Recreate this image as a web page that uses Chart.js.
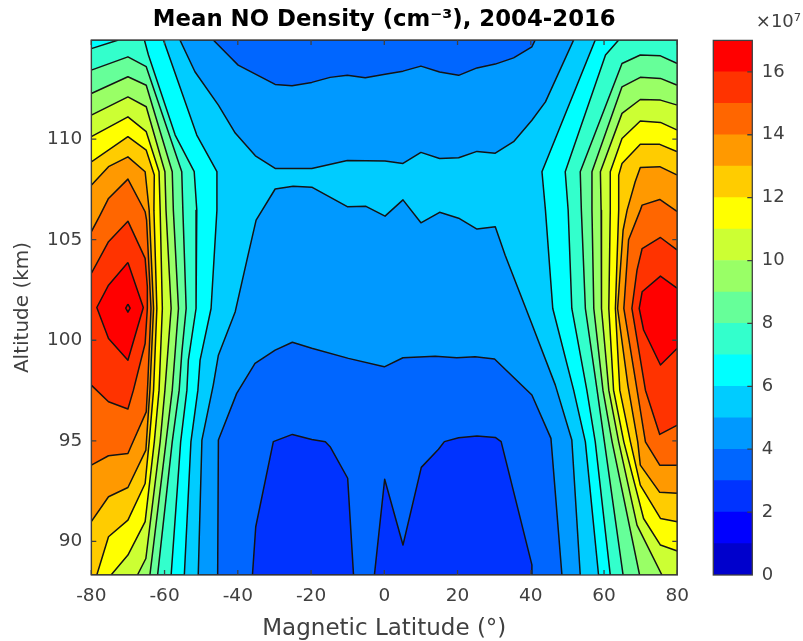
<!DOCTYPE html>
<html><head><meta charset="utf-8">
<script src="https://cdn.jsdelivr.net/npm/chart.js@4"></script>
<style>html,body{margin:0;padding:0;background:#fff}canvas{position:absolute;left:0;top:0;filter:blur(0.45px)}</style>
</head><body>
<canvas id="main" width="803" height="641"></canvas>
<canvas id="bar" width="803" height="641"></canvas>
<script>
const latTicks=[-80,-60,-40,-20,0,20,40,60,80];
const altTicks=[90,95,100,105,110];
const barTicks=[0,2,4,6,8,10,12,14,16];
const levels=[0,1,2,3,4,5,6,7,8,9,10,11,12,13,14,15,16,17];
const bandColors=['#0000cc','#0000ff','#0033ff','#0066ff','#0099ff','#00ccff','#00ffff','#33ffcc','#66ff99','#99ff66','#ccff33','#ffff00','#ffcc00','#ff9900','#ff6600','#ff3300','#ff0000'];
const latMin=-80, latMax=80, altMin=88.33, altMax=114.93;

// contour lines, [latitude, altitude]; L/R = high-latitude sides
const z6L=[[-60.3,114.93],[-51.2,110.2],[-45.7,108.38],[-45.7,106.47],[-47.3,101.58],[-50.3,99.01],[-50.9,97.52],[-52.8,94.95],[-54.6,88.33]];
const z7L=[[-65.5,114.93],[-64.4,114.18],[-57.1,110.2],[-51.9,108.38],[-51.2,106.47],[-51.4,101.58],[-53.5,99.01],[-53.9,97.52],[-55.6,94.95],[-58.2,88.33]];
const z8L=[[-80,113.43],[-70,114.09],[-65,113.6],[-55.3,108.38],[-55,106.47],[-54.1,101.58],[-55.3,99.35],[-56,97.52],[-57.9,94.95],[-61.9,88.33]];
const z9L=[[-80,112.27],[-70,113.1],[-65,112.68],[-57.9,108.38],[-57.6,106.47],[-56.2,101.58],[-57.9,97.52],[-59.6,94.95],[-64,88.33]];
const z10L=[[-80,111.19],[-70,112.1],[-65,111.61],[-59.9,108.38],[-59.6,106.47],[-58.2,101.58],[-59.9,97.52],[-61.2,94.95],[-65.1,89.15],[-67.4,88.33]];
const z11L=[[-80,110.12],[-70,111.11],[-65,110.37],[-61.5,108.38],[-61.2,106.47],[-60.6,101.58],[-61.5,97.52],[-62.8,94.95],[-65.3,90.98],[-70,89.32],[-74.6,88.33]];
const z12L=[[-80,108.87],[-70,110.12],[-65,109.45],[-62.8,108.22],[-62.9,106.47],[-62.1,101.58],[-63,97.52],[-64.2,94.95],[-65.3,92.88],[-70,91.06],[-75.3,90.23],[-78.5,88.33]];
const z13L=[[-80,107.71],[-75.3,108.63],[-70,109.12],[-65.3,108.38],[-64.2,106.47],[-63,101.58],[-64,97.52],[-65.1,94.54],[-70,92.68],[-75.3,92.22],[-80,90.98]];
const z14L=[[-80,105.39],[-77.6,106.22],[-75.3,107.05],[-70,108.01],[-65.3,106.39],[-64.9,105.97],[-63.7,101.58],[-64.6,97.77],[-65,96.44],[-69,94.79],[-70,94.37],[-75.3,94.26],[-80,93.79]];
const z15L=[[-80,103.32],[-75.3,104.9],[-70,105.92],[-65.3,104.07],[-64.7,102.66],[-64.7,101.58],[-65.3,99.84],[-68.5,97.52],[-70,96.58],[-75.3,96.94],[-80,97.77]];
const z16L=[[-70,103.87],[-75.3,102.74],[-78.5,101.63],[-75.3,100.09],[-70,99.01],[-65.8,101.63]];
const z17L=[[-70,101.8],[-69.4,101.6],[-70,101.4],[-70.6,101.6]];
const z6R=[[57.6,114.93],[43.05,108.38],[44,106.47],[46,101.58],[51.7,97.52],[54.9,94.95],[58.5,88.33]];
const z7R=[[64,114.93],[60.4,114.18],[49.4,108.38],[50.2,106.47],[51.2,101.58],[55.3,97.52],[57.6,94.95],[61.7,88.33]];
const z8R=[[80,113.76],[75.4,114.14],[69.9,114.18],[64.9,113.76],[53.5,108.38],[53.8,106.47],[54.9,101.58],[58.1,97.52],[60.1,94.95],[65.2,88.33]];
const z9R=[[80,112.68],[75.4,113.02],[69.9,113.07],[64.9,112.6],[56.7,108.38],[56.7,106.47],[57.2,101.58],[59.7,97.52],[62.2,94.95],[69.7,88.33]];
const z10R=[[80,111.69],[75.4,111.94],[69.9,111.97],[64.9,111.28],[59,108.38],[59.2,106.47],[59.3,101.58],[61.3,97.52],[64,94.95],[69,90.81],[75.8,88.33]];
const z11R=[[80,110.45],[75.4,110.83],[69.9,110.9],[64.9,110.03],[61.7,108.38],[61.7,106.47],[61.3,101.58],[62.6,97.52],[65.4,94.95],[70.8,91.14],[75.4,89.82],[80,89.52]];
const z12R=[[80,109.37],[75.2,109.74],[69.9,109.74],[64.9,108.79],[64,108.21],[64,106.47],[63.1,101.58],[64.3,97.52],[67.2,94.95],[69.9,92.8],[75.4,91.14],[80,90.98]];
const z13R=[[80,108.21],[75.2,108.63],[69.9,108.59],[68.5,107.88],[66.3,106.47],[65.2,105.47],[63.7,101.58],[66.5,97.77],[69.2,94.95],[69.9,93.79],[75.2,92.44],[80,92.39]];
const z14R=[[80,106.39],[75.2,107],[70.4,106.72],[69.9,106.47],[66.7,105],[65.4,101.58],[68.8,97.77],[71.3,94.95],[75.2,93.79],[80,93.79]];
const z15R=[[80,104.48],[75.4,105.11],[70.4,104.56],[69,103.49],[67.6,101.58],[71.3,97.52],[75.2,95.32],[80,95.78]];
const z16R=[[80,102.58],[75.4,103.19],[70.4,102.41],[69.6,101.58],[70.8,100.51],[75.4,98.77],[80,99.6]];
// low-density regions in the middle latitudes
const z5Top=[[-55.8,114.93],[-51.7,113.35],[-45.3,111.69],[-40.7,110.3],[-35.2,109.17],[-29.8,108.54],[-19.8,108.54],[-10.1,108.94],[0.2,108.91],[5.1,108.79],[10,109.34],[15.1,109.04],[20.3,109.07],[25.3,109.39],[30.3,109.3],[35.3,109.87],[40.3,110.94],[44,111.85],[51.7,114.93]];
const z4Top=[[-46.7,114.93],[-42.1,114.08],[-39.9,113.68],[-29.8,112.72],[-25.2,112.65],[-19.8,112.82],[-14.8,113.07],[-10.1,113.18],[-5.2,113.05],[0.2,113.23],[5.1,113.38],[10,113.63],[15.1,113.34],[20.3,113.17],[25.3,113.54],[30.3,113.73],[35.3,114.04],[40.3,114.59],[41.2,114.93]];
const z5Mid=[[-50.8,88.33],[-49.8,95.04],[-46.7,97.77],[-45.3,99.26],[-40.7,101.42],[-37.2,104.23],[-35,105.97],[-29.8,107.52],[-24.9,107.66],[-19.8,107.61],[-10.1,106.64],[-5,106.66],[0.2,106.17],[5.1,106.98],[10,105.84],[15.1,106.36],[20.3,106.07],[25.3,105.53],[30.3,105.64],[33,104.23],[39.9,101],[46.7,97.77],[51.2,95.04],[53.5,88.33]];
const z4Arch=[[-45.5,88.33],[-45.3,95.04],[-40.3,97.36],[-35.3,98.85],[-29.8,99.51],[-25.1,99.9],[-19.8,99.6],[-9.8,99.1],[0,98.68],[5.1,99.13],[13.9,99.21],[19.8,99.13],[24.8,99.18],[30.1,99.07],[40.3,97.28],[45.5,95.12],[48.5,88.33]];
const z3Left=[[-36,88.33],[-35.1,90.73],[-30.3,94.96],[-25.1,95.32],[-19.8,95.07],[-16.1,94.96],[-14.8,94.71],[-10,93.14],[-8.4,88.33]];
const z3Right=[[-2.7,88.33],[0.1,93.09],[5.1,89.82],[10.1,93.68],[14.8,94.58],[16.4,94.96],[20.3,95.15],[25.3,95.24],[30.3,95.17],[31.9,94.96],[40.3,88.83],[40.3,88.33]];

const BL=[latMin,altMin],TL=[latMin,altMax],BR=[latMax,altMin],TR=[latMax,altMax];
const LINE='#141414';
function area(points,band,extra){
  const pts=points.concat(extra||[]);
  pts.push(pts[0]);
  return {data:pts.map(p=>({x:p[0],y:p[1]})),showLine:true,pointRadius:0,pointHoverRadius:0,
    tension:0,fill:'shape',backgroundColor:bandColors[band],borderColor:LINE,borderWidth:1.5,borderJoinStyle:'round'};
}
const list=[
  Object.assign(area([BL,TL,TR,BR],5),{borderWidth:0}),
  area(z6L,6,[BL,TL]),area(z6R,6,[BR,TR]),
  area(z7L,7,[BL,[-80,114.5],[-72.6,114.93]]),area(z7R,7,[BR,TR]),
  area(z8L,8,[BL]),area(z8R,8,[BR]),
  area(z9L,9,[BL]),area(z9R,9,[BR]),
  area(z10L,10,[BL]),area(z10R,10,[BR]),
  area(z11L,11,[BL]),area(z11R,11),
  area(z12L,12,[BL]),area(z12R,12),
  area(z13L,13),area(z13R,13),
  area(z14L,14),area(z14R,14),
  area(z15L,15),area(z15R,15),
  area(z16L,16),area(z16R,16),area(z17L,16),
  area(z5Top,4),area(z5Mid,4),
  area(z4Top,3),area(z4Arch,3),
  area(z3Left,2),area(z3Right,2)
];
list.forEach((d,i)=>{d.order=list.length-i;});

const FONT='"DejaVu Sans"', TXT='#404040', AX='#404040';
function frame(sides){return {id:'frame',afterDatasetsDraw(c){
  const a=c.chartArea,g=c.ctx;g.save();g.strokeStyle=AX;g.lineWidth=1.3;
  g.beginPath();
  const L=5;
  if(sides.x){c.scales.x.ticks.forEach(t=>{const p=c.scales.x.getPixelForValue(t.value);
    g.moveTo(p,a.bottom);g.lineTo(p,a.bottom-L);g.moveTo(p,a.top);g.lineTo(p,a.top+L);});}
  c.scales.y.ticks.forEach(t=>{const p=c.scales.y.getPixelForValue(t.value);
    if(p<a.top+1||p>a.bottom-1)return;
    if(sides.left){g.moveTo(a.left,p);g.lineTo(a.left+L,p);}
    g.moveTo(a.right,p);g.lineTo(a.right-L,p);});
  g.stroke();
  g.strokeRect(a.left,a.top,a.right-a.left,a.bottom-a.top);
  g.restore();
}};}

new Chart(document.getElementById('main'),{
  type:'scatter',
  data:{datasets:list},
  plugins:[frame({x:true,left:true})],
  options:{responsive:false,animation:false,devicePixelRatio:1,
    layout:{padding:{left:0,right:125.7,top:0,bottom:0}},
    plugins:{legend:{display:false},tooltip:{enabled:false},
      title:{display:true,fullSize:false,text:'Mean NO Density (cm⁻³), 2004-2016',color:'#000',
        font:{family:FONT,size:22.8,weight:'bold',lineHeight:1.2},padding:{top:6.2,bottom:6.4}}},
    scales:{
      x:{type:'linear',min:latMin,max:latMax,grid:{display:false,drawTicks:false},border:{display:false},
        afterBuildTicks(s){s.ticks=latTicks.map(v=>({value:v}));},
        afterFit(s){s.height=66;},
        ticks:{color:TXT,font:{family:FONT,size:18.5},padding:10,maxRotation:0,autoSkip:false,callback:v=>String(v)},
        title:{display:true,text:'Magnetic Latitude (°)',color:TXT,font:{family:FONT,size:23,lineHeight:1},padding:{top:4,bottom:0}}},
      y:{type:'linear',min:altMin,max:altMax,grid:{display:false,drawTicks:false},border:{display:false},
        afterBuildTicks(s){s.ticks=altTicks.map(v=>({value:v}));},
        afterFit(s){s.width=91.3;},
        ticks:{color:TXT,font:{family:FONT,size:18.5},padding:9,autoSkip:false,callback:v=>String(v)},
        title:{display:true,text:'Altitude (km)',color:TXT,font:{family:FONT,size:20},padding:{top:11,bottom:0}}}
    }
  }
});

new Chart(document.getElementById('bar'),{
  type:'bar',
  data:{labels:[''],datasets:bandColors.map((c,i)=>({data:[[levels[i],levels[i+1]]],backgroundColor:c,borderWidth:0,barPercentage:1,categoryPercentage:1,grouped:false}))},
  plugins:[frame({x:false,left:false})],
  options:{responsive:false,animation:false,devicePixelRatio:1,
    layout:{padding:{left:713.3,right:2,top:0,bottom:66}},
    plugins:{legend:{display:false},tooltip:{enabled:false},
      title:{display:true,align:'end',text:'×10⁷',color:TXT,font:{family:FONT,size:18,weight:'normal',lineHeight:1.2},padding:{top:12,bottom:6.8}}},
    scales:{
      x:{display:false,grid:{display:false}},
      y:{type:'linear',position:'right',min:0,max:17,grid:{display:false,drawTicks:false},border:{display:false},
        afterBuildTicks(s){s.ticks=barTicks.map(v=>({value:v}));},
        afterFit(s){s.width=48.7;},
        ticks:{color:TXT,font:{family:FONT,size:18},padding:9.5,autoSkip:false,callback:v=>String(v)}}
    }
  }
});
</script>
</body></html>
